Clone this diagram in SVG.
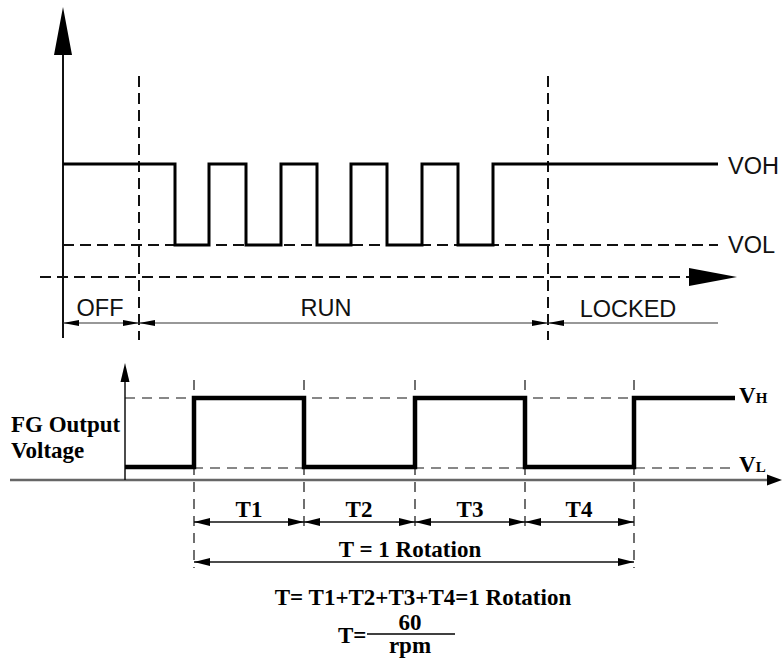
<svg xmlns="http://www.w3.org/2000/svg" width="782" height="661" viewBox="0 0 782 661">
<style>
.sig1{fill:none;stroke:#000;stroke-width:3;stroke-linejoin:miter}
.sig2{fill:none;stroke:#000;stroke-width:4.5;stroke-linejoin:miter}
.dsh1{fill:none;stroke:#111;stroke-width:2;stroke-dasharray:11 6}
.dsh2{fill:none;stroke:#111;stroke-width:1.2;stroke-dasharray:10 7}
.ax{fill:none;stroke:#111;stroke-width:2}
.ax2{fill:none;stroke:#666;stroke-width:2.5}
.dim{fill:none;stroke:#333;stroke-width:1.2}
.dim2{fill:none;stroke:#111;stroke-width:1.5}
.sans{font-family:"Liberation Sans",Arial,sans-serif;font-size:23.5px;fill:#111}
.serif{font-family:"Liberation Serif","Times New Roman",serif;font-weight:bold;font-size:23px;fill:#000}
</style>
<defs>
<marker id="a1" viewBox="0 0 16 6" refX="16" refY="3" markerWidth="16" markerHeight="6" markerUnits="userSpaceOnUse" orient="auto-start-reverse"><path d="M0,0 L16,3 L0,6 z" fill="#000"/></marker>
<marker id="a2" viewBox="0 0 16 8" refX="16" refY="4" markerWidth="16" markerHeight="8" markerUnits="userSpaceOnUse" orient="auto-start-reverse"><path d="M0,0 L16,4 L0,8 z" fill="#000"/></marker>
</defs>

<g id="top-chart">
  <g id="top-axes">
    <line class="ax" x1="63" y1="50" x2="63" y2="338"/>
    <polygon points="63,7 54,55 72,55" fill="#000"/>
    <line class="dsh1" x1="40" y1="277" x2="692" y2="277"/>
    <polygon points="737,277 689,268 689,286" fill="#000"/>
  </g>
  <g id="top-guides">
    <line class="dsh1" x1="139" y1="76" x2="139" y2="340"/>
    <line class="dsh1" x1="548" y1="76" x2="548" y2="340"/>
    <line class="dsh1" x1="63" y1="245" x2="718" y2="245"/>
  </g>
  <path id="top-signal" class="sig1" d="M63,164 H175 V245 H209 V164 H246 V245 H281 V164 H317 V245 H351 V164 H387 V245 H422 V164 H458 V245 H493 V164 H718"/>
  <g id="top-labels">
    <text class="sans" x="728" y="174">VOH</text>
    <text class="sans" x="728" y="253">VOL</text>
  </g>
  <g id="top-dims">
    <line class="dim" x1="63" y1="323" x2="139" y2="323" marker-start="url(#a1)" marker-end="url(#a1)"/>
    <line class="dim" x1="139" y1="323" x2="548" y2="323" marker-start="url(#a1)" marker-end="url(#a1)"/>
    <line class="dim" x1="548" y1="323" x2="718" y2="323" marker-start="url(#a1)"/>
    <text class="sans" x="100" y="316" text-anchor="middle">OFF</text>
    <text class="sans" x="326" y="316" text-anchor="middle">RUN</text>
    <text class="sans" x="628" y="317" text-anchor="middle">LOCKED</text>
  </g>
</g>

<g id="bottom-chart">
  <g id="bottom-axes">
    <line class="ax2" x1="10" y1="480" x2="770" y2="480"/>
    <polygon points="782,480 767,474.5 767,485.5" fill="#000"/>
    <line class="dim2" x1="125" y1="378" x2="125" y2="480"/>
    <polygon points="125,363 120.5,382 129.5,382" fill="#000"/>
  </g>
  <g id="bottom-guides">
    <line class="dsh2" x1="125" y1="398" x2="735" y2="398"/>
    <line class="dsh2" x1="125" y1="468" x2="735" y2="468"/>
    <line class="dsh2" x1="194" y1="380" x2="194" y2="568"/>
    <line class="dsh2" x1="304" y1="380" x2="304" y2="528"/>
    <line class="dsh2" x1="415" y1="380" x2="415" y2="528"/>
    <line class="dsh2" x1="525" y1="380" x2="525" y2="528"/>
    <line class="dsh2" x1="634" y1="380" x2="634" y2="568"/>
  </g>
  <path id="bottom-signal" class="sig2" d="M125,467 H194 V398 H304 V467 H415 V398 H525 V467 H634 V398 H735"/>
  <g id="bottom-labels">
    <text class="serif" x="11" y="432" font-size="22">FG Output</text>
    <text class="serif" x="11" y="458" font-size="22">Voltage</text>
    <text class="serif" x="739" y="403">V<tspan font-size="15">H</tspan></text>
    <text class="serif" x="739" y="472">V<tspan font-size="15">L</tspan></text>
  </g>
  <g id="bottom-dims">
    <line class="dim2" x1="194" y1="522" x2="304" y2="522" marker-start="url(#a2)" marker-end="url(#a2)"/>
    <line class="dim2" x1="304" y1="522" x2="415" y2="522" marker-start="url(#a2)" marker-end="url(#a2)"/>
    <line class="dim2" x1="415" y1="522" x2="525" y2="522" marker-start="url(#a2)" marker-end="url(#a2)"/>
    <line class="dim2" x1="525" y1="522" x2="634" y2="522" marker-start="url(#a2)" marker-end="url(#a2)"/>
    <line class="dim2" x1="194" y1="562" x2="634" y2="562" marker-start="url(#a2)" marker-end="url(#a2)"/>
    <text class="serif" x="249" y="517" text-anchor="middle">T1</text>
    <text class="serif" x="359" y="517" text-anchor="middle">T2</text>
    <text class="serif" x="470" y="517" text-anchor="middle">T3</text>
    <text class="serif" x="579" y="517" text-anchor="middle">T4</text>
    <text class="serif" x="410" y="557" text-anchor="middle">T = 1 Rotation</text>
  </g>
  <g id="formula">
    <text class="serif" x="423" y="605" text-anchor="middle" font-size="22">T= T1+T2+T3+T4=1 Rotation</text>
    <text class="serif" x="338" y="643" font-size="22">T=</text>
    <line x1="367" y1="634" x2="455" y2="634" stroke="#000" stroke-width="1.5"/>
    <text class="serif" x="410" y="630" text-anchor="middle" font-size="22">60</text>
    <text class="serif" x="410" y="653" text-anchor="middle" font-size="22">rpm</text>
  </g>
</g>
</svg>
